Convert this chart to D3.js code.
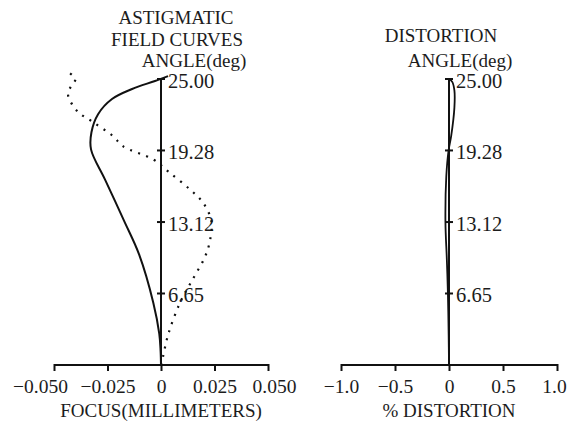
<!DOCTYPE html>
<html>
<head>
<meta charset="utf-8">
<script src="https://cdn.jsdelivr.net/npm/d3@7"></script>
<style>
	body { margin: 0; background: #fff; }
	text { font-family: "Liberation Serif", "Times New Roman", serif; fill: #1c1c1c; }
</style>
</head>
<body>
<script>
// field angle ticks (deg), placed by relative field height (tan)
var angleTicks = [ 6.65, 13.12, 19.28, 25.00 ];
var focusTicks = [ -0.050, -0.025, 0, 0.025, 0.050 ];
var focusTickLabels = [ '\u22120.050', '\u22120.025', '0', '0.025', '0.050' ];
var distTicks = [ -1.0, -0.5, 0, 0.5, 1.0 ];
var distTickLabels = [ '\u22121.0', '\u22120.5', '0', '0.5', '1.0' ];

// solid curve: relative field, focus shift (mm)
var solidField = [ 0, 0.05, 0.109, 0.218, 0.386, 0.505, 0.649, 0.754, 0.814, 0.877, 0.93, 0.965, 0.993, 1.01 ];
var solidFocus = [ 0, -0.0002, -0.0008, -0.0036, -0.0102, -0.0173, -0.0262, -0.0327, -0.0325, -0.0294, -0.0229, -0.0135, -0.0028, 0.0033 ];

// dotted curve
var dottedField = [ 0, 0.028, 0.105, 0.218, 0.302, 0.379, 0.439, 0.505, 0.568, 0.614, 0.677, 0.719, 0.765, 0.8, 0.849, 0.888, 0.947, 0.975, 1.0, 1.025 ];
var dottedFocus = [ 0, 0.0009, 0.0033, 0.0089, 0.015, 0.0206, 0.023, 0.0235, 0.0196, 0.0135, 0.0033, -0.0037, -0.0178, -0.0224, -0.0317, -0.0392, -0.0435, -0.042, -0.040, -0.0435 ];

// distortion curve (%)
var distField = [ 0, 0.1, 0.25, 0.37, 0.5, 0.66, 0.75, 0.8, 0.9, 0.96, 0.99, 1.0 ];
var distValues = [ 0, -0.003, -0.01, -0.02, -0.033, -0.025, -0.004, 0.02, 0.05, 0.05, 0.03, 0 ];

var width = 569;
var height = 424;

var svg = d3.select( 'body' ).append( 'svg' )
	.attr( 'width', width )
	.attr( 'height', height );

var scales = {};
scales.y = d3.scaleLinear().domain( [ 0, 1 ] ).range( [ 365, 79 ] );
scales.focus = d3.scaleLinear().domain( [ -0.05, 0.05 ] ).range( [ 54, 268 ] );
scales.dist = d3.scaleLinear().domain( [ -1, 1 ] ).range( [ 341, 557 ] );

var tanMax = Math.tan( 25 * Math.PI / 180 );
var angleY = function ( a ) {
	return scales.y( Math.tan( a * Math.PI / 180 ) / tanMax );
};

var drawPanel = function ( xScale, ticks, tickLabels, labelShift, xTitle, titleLines ) {
	var g = svg.append( 'g' );
	var x0 = xScale( 0 );

	// x axis
	var xAxis = d3.axisBottom( xScale )
		.tickValues( ticks )
		.tickSize( 6 )
		.tickPadding( 8 )
		.tickFormat( function ( d, i ) { return tickLabels[i]; } );
	var ax = g.append( 'g' )
		.attr( 'transform', 'translate(0,' + scales.y( 0 ) + ')' )
		.call( xAxis );
	ax.select( '.domain' ).attr( 'd', 'M' + xScale.range()[0] + ',0H' + xScale.range()[1] )
		.attr( 'stroke', '#111' ).attr( 'stroke-width', 2 );
	ax.selectAll( '.tick line' ).attr( 'y1', -1 ).attr( 'stroke', '#111' ).attr( 'stroke-width', 2 );
	ax.selectAll( '.tick text' )
		.attr( 'font-size', 19.5 )
		.attr( 'font-family', '"Liberation Serif", serif' )
		.attr( 'fill', '#1c1c1c' )
		.attr( 'dx', function ( d, i ) { return labelShift[i]; } );

	g.append( 'text' )
		.attr( 'x', x0 ).attr( 'y', 417 )
		.attr( 'text-anchor', 'middle' )
		.attr( 'font-size', 19 )
		.text( xTitle );

	// vertical (field) axis
	g.append( 'line' )
		.attr( 'x1', x0 ).attr( 'x2', x0 )
		.attr( 'y1', scales.y( 0 ) ).attr( 'y2', angleY( 25 ) )
		.attr( 'stroke', '#111' ).attr( 'stroke-width', 2 );

	var yt = g.selectAll( '.ytick' ).data( angleTicks ).enter().append( 'g' )
		.attr( 'transform', function ( d ) { return 'translate(' + x0 + ',' + angleY( d ) + ')'; } );
	yt.append( 'line' )
		.attr( 'x1', -4 ).attr( 'x2', 4 )
		.attr( 'stroke', '#111' ).attr( 'stroke-width', 2 );
	yt.append( 'text' )
		.attr( 'x', 7 ).attr( 'dy', '0.42em' )
		.attr( 'font-size', 20.5 )
		.text( function ( d ) { return d.toFixed( 2 ); } );

	titleLines.forEach( function ( t ) {
		g.append( 'text' )
			.attr( 'x', t.x ).attr( 'y', t.y )
			.attr( 'text-anchor', 'middle' )
			.attr( 'font-size', 19 )
			.text( t.text );
	} );

	return g;
};

var left = drawPanel( scales.focus, focusTicks, focusTickLabels, [ -14, 0, 0, 0, 6 ], 'FOCUS(MILLIMETERS)', [
	{ text: 'ASTIGMATIC', x: 176, y: 24 },
	{ text: 'FIELD CURVES', x: 177, y: 46 },
	{ text: 'ANGLE(deg)', x: 194, y: 67 }
] );

var right = drawPanel( scales.dist, distTicks, distTickLabels, [ 0, 0, 0, 0, -3 ], '% DISTORTION', [
	{ text: 'DISTORTION', x: 441, y: 42 },
	{ text: 'ANGLE(deg)', x: 460, y: 67 }
] );

var makeLine = function ( xScale ) {
	return d3.line()
		.x( function ( d ) { return xScale( d.v ); } )
		.y( function ( d ) { return scales.y( d.f ); } )
		.curve( d3.curveCatmullRom.alpha( 0.5 ) );
};

var zip = function ( fs, vs ) {
	return fs.map( function ( f, i ) { return { f: f, v: vs[i] }; } );
};

left.append( 'path' )
	.datum( zip( solidField, solidFocus ) )
	.attr( 'd', makeLine( scales.focus ) )
	.attr( 'fill', 'none' ).attr( 'stroke', '#111' ).attr( 'stroke-width', 2 );

left.append( 'path' )
	.datum( zip( dottedField, dottedFocus ) )
	.attr( 'd', makeLine( scales.focus ) )
	.attr( 'fill', 'none' ).attr( 'stroke', '#111' ).attr( 'stroke-width', 2.2 )
	.attr( 'stroke-dasharray', '2,6.5' );

right.append( 'path' )
	.datum( zip( distField, distValues ) )
	.attr( 'd', makeLine( scales.dist ) )
	.attr( 'fill', 'none' ).attr( 'stroke', '#111' ).attr( 'stroke-width', 1.8 );
</script>
</body>
</html>
